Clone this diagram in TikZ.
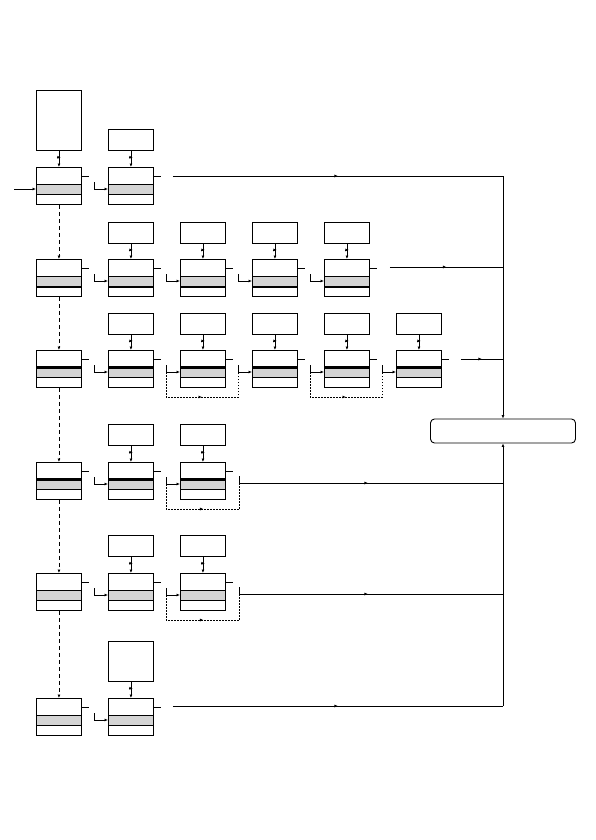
\documentclass[tikz,border=0pt]{standalone}
\usetikzlibrary{arrows.meta, decorations.markings}

\begin{document}
\begin{tikzpicture}[x=1pt, y=-1pt, line width=0.9pt,
  cell/.style={draw, minimum width=45pt, minimum height=37pt, inner sep=0pt, anchor=north west,
    path picture={\draw[fill=black!17] ([yshift=-17pt]path picture bounding box.north west)
      rectangle ([yshift=-27pt]path picture bounding box.north east);}},
  src/.style={draw, minimum width=45pt, minimum height=21pt, inner sep=0pt, anchor=north west},
  tip/.style={-{Latex[length=3.5pt,width=3pt]}},
  feed/.style={tip, postaction={decorate}, decoration={markings,
    mark=at position 0.4 with {\draw[line width=0.8pt] (0,-2pt) -- (0,2pt);}}},
  mid/.style={postaction={decorate}, decoration={markings,
    mark=at position 0.5 with {\arrow{Latex[length=3.5pt,width=3pt]}}}},
  skip/.style={tip, dash pattern=on 4pt off 3pt},
  bypass/.style={mid, dash pattern=on 1.5pt off 1.5pt},
  bold/.style={line width=2.4pt}
]
  \useasboundingbox (0,0) rectangle (596,840);

  % sources and cells
  \node[src, minimum height=60pt] (t10) at (36,90) {};
  \node[src] (t11) at (108,129) {};
  \node[cell] (m10) at (36,167) {};
  \node[cell] (m11) at (108,167) {};

  \node[cell] (m20) at (36,259) {};
  \foreach \c in {1,...,4} {
    \node[src] (t2\c) at (36+72*\c,222) {};
    \node[cell] (m2\c) at (36+72*\c,259) {};
  }

  \node[cell] (m30) at (36,350) {};
  \foreach \c in {1,...,5} {
    \node[src] (t3\c) at (36+72*\c,313) {};
    \node[cell] (m3\c) at (36+72*\c,350) {};
  }

  \node[cell] (m40) at (36,462) {};
  \node[cell] (m50) at (36,573) {};
  \foreach \c in {1,2} {
    \node[src] (t4\c) at (36+72*\c,424) {};
    \node[cell] (m4\c) at (36+72*\c,462) {};
    \node[src] (t5\c) at (36+72*\c,535) {};
    \node[cell] (m5\c) at (36+72*\c,573) {};
  }

  \node[src, minimum height=40pt] (t61) at (108,641) {};
  \node[cell] (m60) at (36,698) {};
  \node[cell] (m61) at (108,698) {};

  \node[draw, rounded corners=4pt, minimum width=145pt, minimum height=24pt, inner sep=0pt] (sink) at (503,431) {};

  % heavy rules in the bands
  \foreach \m in {m20,m21,m22,m23,m24}
    \draw[bold] ([yshift=-28pt]\m.north west) -- ([yshift=-28pt]\m.north east);
  \foreach \m in {m30,m31,m32,m33,m34,m35,m40,m41,m42}
    \draw[bold] ([yshift=-17.5pt]\m.north west) -- ([yshift=-17.5pt]\m.north east);

  % feeds from the sources
  \foreach \r/\c in {1/0,1/1,2/1,2/2,2/3,2/4,3/1,3/2,3/3,3/4,3/5,4/1,4/2,5/1,5/2,6/1}
    \draw[feed] (t\r\c) -- (m\r\c);

  % stubs and entries
  \foreach \m in {m10,m11,m20,m21,m22,m23,m24,m30,m31,m32,m33,m34,m35,m40,m41,m42,m50,m51,m52,m60,m61}
    \draw ([yshift=-9pt]\m.north east) -- ++(7,0);
  \foreach \m in {m11,m21,m22,m23,m24,m31,m32,m33,m34,m35,m41,m42,m51,m52,m61}
    \draw[tip] ([xshift=-14pt,yshift=-15pt]\m.north west) |- ([yshift=-22pt]\m.north west);

  \coordinate (in) at (14,189);
  \draw[tip] (in) -- (in -| m10.west);

  % down the first column
  \foreach \a/\b in {m10/m20,m20/m30,m30/m40,m40/m50,m50/m60}
    \draw[skip] (\a) -- (\b);

  % outputs to the sink
  \coordinate (o1) at ([xshift=19pt,yshift=-9pt]m11.north east);
  \coordinate (c1) at (o1 -| sink);
  \draw[mid] (o1) -- (c1);
  \draw[tip] (c1) -- (sink);
  \coordinate (o2) at ([xshift=20pt,yshift=-8pt]m24.north east);
  \draw[mid] (o2) -- (o2 -| sink);
  \coordinate (o3) at ([xshift=19pt,yshift=-9pt]m35.north east);
  \draw[mid] (o3) -- (o3 -| sink);
  \coordinate (o4) at ([xshift=14pt,yshift=-14pt]m42.north east);
  \coordinate (e4) at ([xshift=14pt,yshift=-21pt]m42.north east);
  \draw[mid] (o4) -- (e4) -- (e4 -| sink);
  \coordinate (o5) at ([xshift=14pt,yshift=-14pt]m52.north east);
  \coordinate (e5) at ([xshift=14pt,yshift=-21pt]m52.north east);
  \draw[mid] (o5) -- (e5) -- (e5 -| sink);
  \coordinate (o6) at ([xshift=19pt,yshift=-8pt]m61.north east);
  \coordinate (c6) at (o6 -| sink);
  \draw[mid] (o6) -- (c6);
  \draw[tip] (c6) -- (sink);

  % bypass loops
  \coordinate (b3a) at ([xshift=-14pt,yshift=-22pt]m32.north west);
  \coordinate (b3b) at ([xshift=-14pt,yshift=-22pt]m34.north west);
  \draw[bypass] (b3a) -- ++(0,25) -| ([xshift=-14pt,yshift=-22pt]m33.north west);
  \draw[bypass] (b3b) -- ++(0,25) -| ([xshift=-14pt,yshift=-22pt]m35.north west);
  \draw[bypass] ([xshift=-14pt,yshift=-22pt]m42.north west) -- ++(0,25) -| (e4);
  \draw[bypass] ([xshift=-14pt,yshift=-22pt]m52.north west) -- ++(0,25) -| (e5);
\end{tikzpicture}
\end{document}
